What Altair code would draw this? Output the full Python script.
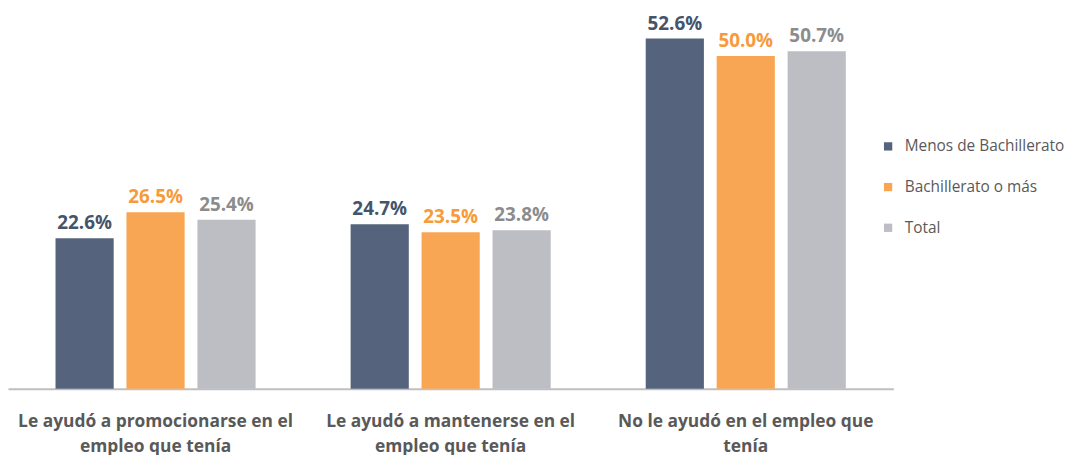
import altair as alt
import pandas as pd

categories = [
    "Le ayudó a promocionarse en el|empleo que tenía",
    "Le ayudó a mantenerse en el|empleo que tenía",
    "No le ayudó en el empleo que|tenía",
]
series = ["Menos de Bachillerato", "Bachillerato o más", "Total"]
menos = [22.6, 24.7, 52.6]
bach = [26.5, 23.5, 50.0]
total = [25.4, 23.8, 50.7]

rows = []
for vals, s in zip([menos, bach, total], series):
    for c, v in zip(categories, vals):
        rows.append({"cat": c, "serie": s, "valor": v, "etq": f"{v:.1f}%"})
df = pd.DataFrame(rows)

bar_colors = ["#56637C", "#F9A654", "#BCBEC4"]
text_colors = ["#44546A", "#F79A3A", "#8C8C8C"]
FONT = "Open Sans"

x = alt.X("cat:N", sort=categories, title=None,
          scale=alt.Scale(paddingInner=0.322, paddingOuter=0.161),
          axis=alt.Axis(labelExpr="split(datum.label, '|')", labelAngle=0, labelLimit=0,
                        labelFont=FONT, labelFontSize=17.5, labelFontWeight="bold",
                        labelColor="#595959", labelPadding=24, labelLineHeight=25,
                        labelBaseline="top",
                        ticks=False, domainColor="#BFBFBF", domainWidth=2,
                        grid=False))
xo = alt.XOffset("serie:N", sort=series, scale=alt.Scale(paddingInner=0.18, paddingOuter=0))
y = alt.Y("valor:Q", scale=alt.Scale(domain=[0, 55]), axis=None)

bars = alt.Chart(df).mark_bar().encode(
    x=x, xOffset=xo, y=y,
    color=alt.Color("serie:N", sort=series,
                    scale=alt.Scale(domain=series, range=bar_colors),
                    legend=alt.Legend(title=None, orient="none", legendX=879, legendY=117,
                                      symbolType="square", symbolSize=70, labelLimit=0,
                                      labelFont=FONT, labelFontSize=15.5, labelColor="#595959",
                                      rowPadding=24, padding=0, labelOffset=9)),
)

labels = alt.Chart(df).mark_text(dy=-5, baseline="bottom", font=FONT, fontSize=19,
                                 fontWeight="bold").encode(
    x=x, xOffset=xo, y=y, text="etq:N",
    color=alt.Color("serie:N", sort=series,
                    scale=alt.Scale(domain=series, range=text_colors), legend=None),
)

chart = alt.layer(bars, labels).resolve_scale(color="independent").properties(
    width=892, height=369,
    autosize=alt.AutoSizeParams(type="none"),
    padding={"top": 13, "left": 0, "right": 175, "bottom": 66},
).configure_view(stroke=None)

chart.save("out.html", embed_options={"renderer": "svg", "actions": False})
